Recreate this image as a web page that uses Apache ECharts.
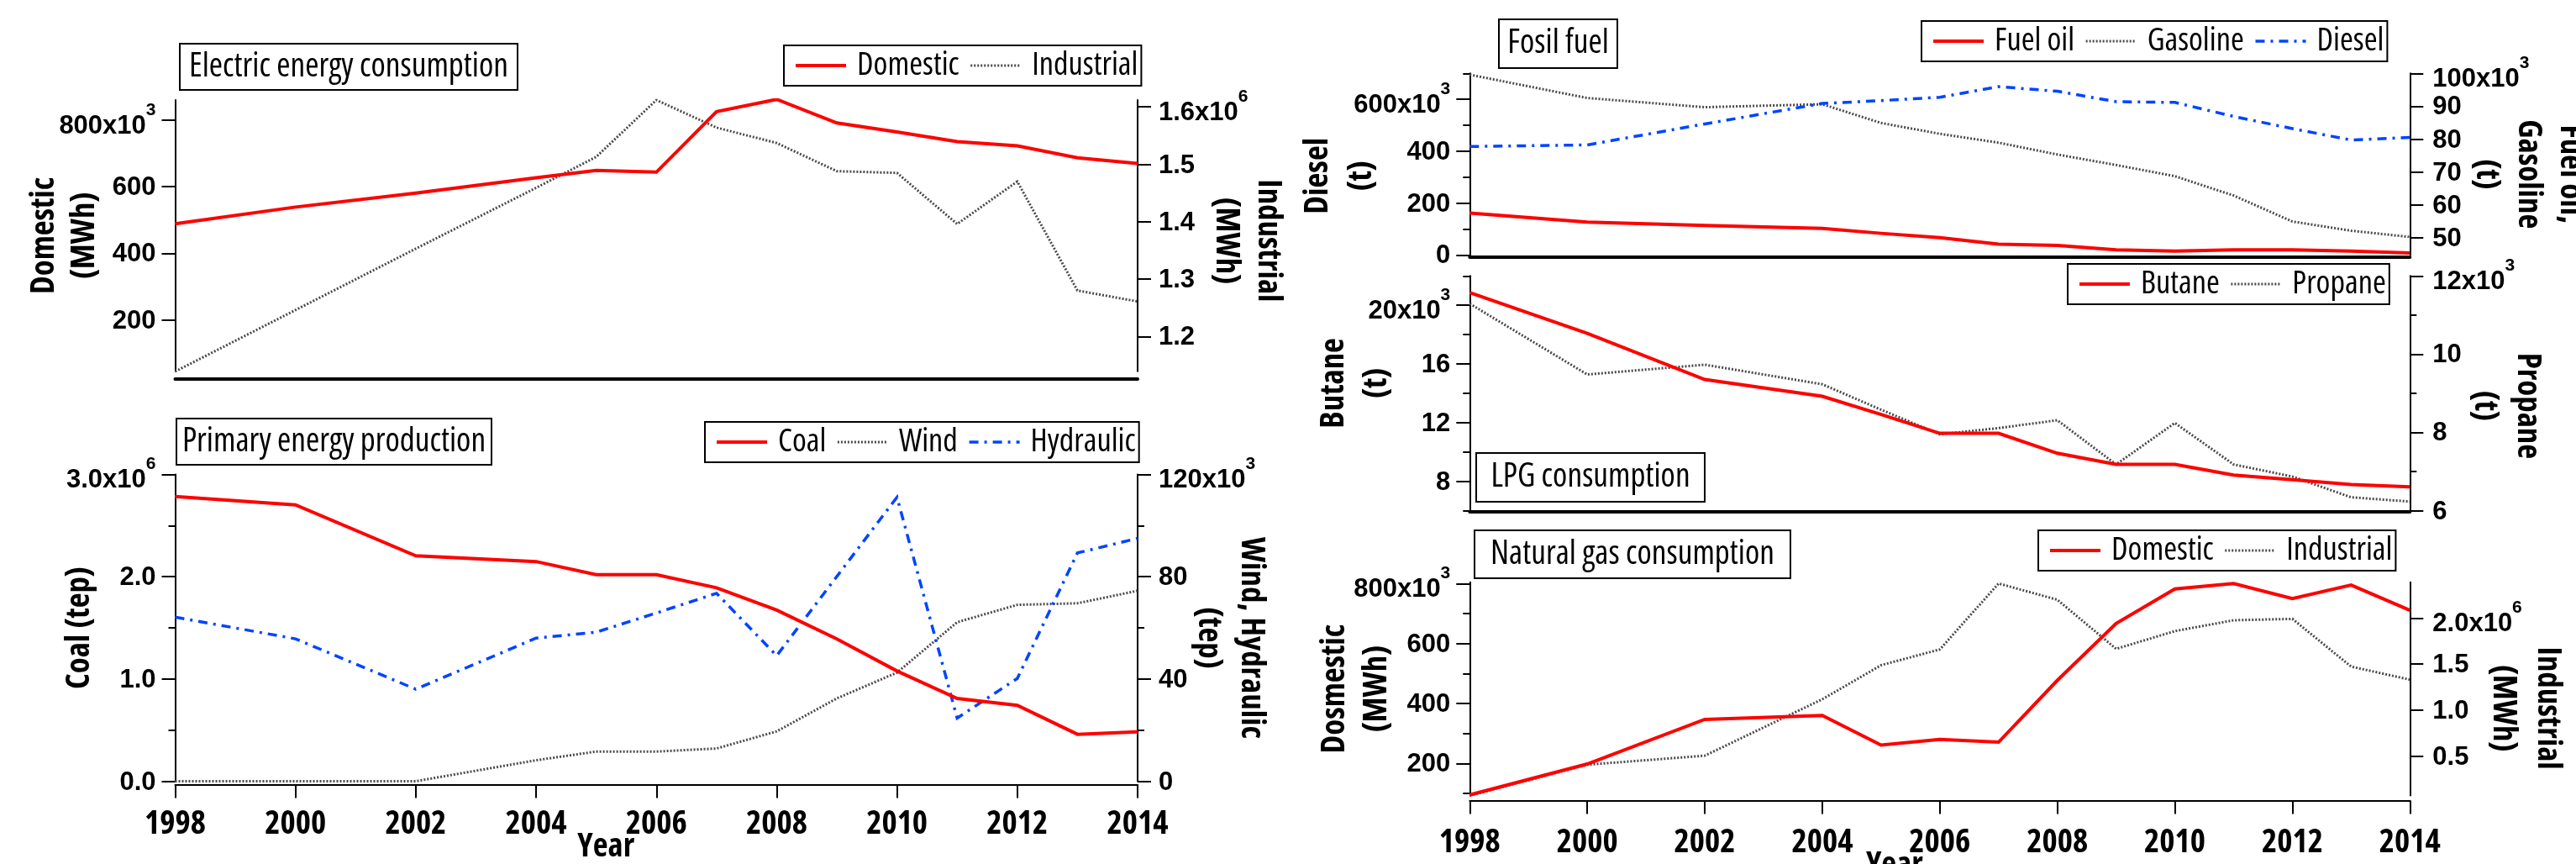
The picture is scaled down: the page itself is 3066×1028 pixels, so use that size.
<!DOCTYPE html>
<html>
<head>
<meta charset="utf-8">
<title>Energy statistics 1998-2014</title>
<script src="https://cdn.jsdelivr.net/npm/echarts@6/dist/echarts.min.js"></script>
<style>
  html, body { margin: 0; padding: 0; background: #fff; }
  #chart { width: 3066px; height: 1028px; }
</style>
</head>
<body>
<div id="chart"></div>
<script>
// ---------------- data ----------------
const years = [1998, 2000, 2002, 2004, 2005, 2006, 2007, 2008, 2009, 2010, 2011, 2012, 2013, 2014];
const yearTicks = [1998, 2000, 2002, 2004, 2006, 2008, 2010, 2012, 2014];

// Electric energy consumption: Domestic in 10^3 MWh, Industrial in 10^6 MWh
const elecDomestic   = [489, 539, 581, 627, 649, 644, 826, 863, 792, 765, 736, 723, 687, 670];
const elecIndustrial = [1.139, 1.246, 1.353, 1.459, 1.513, 1.612, 1.564, 1.537, 1.488, 1.485, 1.396, 1.470, 1.280, 1.261];

// Primary energy production: Coal in 10^6 tep, Wind / Hydraulic in 10^3 tep
const coal      = [2.785, 2.702, 2.205, 2.148, 2.020, 2.020, 1.892, 1.674, 1.391, 1.078, 0.810, 0.742, 0.459, 0.483];
const wind      = [0, 0, 0, 8.2, 11.6, 11.6, 12.8, 19.5, 32.4, 42.5, 62.2, 69.0, 69.6, 74.5];
const hydraulic = [64.2, 55.7, 36.0, 56.0, 58.3, 65.8, 73.5, 49.1, 80.1, 111.1, 24.7, 40.2, 89.3, 95.0];

// Fossil fuel, 10^3 t
const fuelOil  = [57.5, 54.7, 53.7, 52.8, 51.3, 50.0, 48.0, 47.6, 46.3, 45.9, 46.3, 46.3, 45.9, 45.3];
const gasoline = [99.6, 92.5, 89.7, 90.6, 84.9, 81.6, 78.9, 75.3, 72.1, 68.7, 62.8, 54.9, 52.1, 50.2];
const diesel   = [418, 424, 505, 584, 595, 608, 649, 631, 591, 588, 534, 487, 443, 453];

// LPG consumption, 10^3 t
const butane  = [20.86, 18.09, 14.94, 13.79, 12.55, 11.27, 11.27, 9.91, 9.15, 9.15, 8.42, 8.11, 7.77, 7.62];
const propane = [11.29, 9.48, 9.73, 9.23, 8.58, 7.95, 8.11, 8.31, 7.18, 8.24, 7.18, 6.87, 6.34, 6.23];

// Natural gas consumption: Domestic in 10^3 MWh, Industrial in 10^6 MWh
const gasDomestic   = [95, 198, 347, 360, 261, 280, 271, 477, 667, 782, 800, 750, 795, 711];
const gasIndustrial = [0.07, 0.405, 0.503, 1.117, 1.487, 1.659, 2.376, 2.199, 1.665, 1.858, 1.976, 1.991, 1.472, 1.330];

// tick values (labelled / unlabelled minor)
const elecDomTicks = [200, 400, 600, 800];
const elecIndTicks = [1.2, 1.3, 1.4, 1.5, 1.6];
const coalTicks = [0, 1, 2, 3];
const coalMinor = [0.5, 1.5, 2.5];
const windTicks = [0, 40, 80, 120];
const windMinor = [20, 60, 100];
const dieselTicks = [0, 200, 400, 600];
const dieselMinor = [100, 300, 500, 700];
const gasolineTicks = [50, 60, 70, 80, 90, 100];
const butaneTicks = [8, 12, 16, 20];
const butaneMinor = [6, 10, 14, 18, 22];
const propaneTicks = [6, 8, 10, 12];
const propaneMinor = [7, 9, 11];
const gasDomTicks = [200, 400, 600, 800];
const gasDomMinor = [100, 300, 500, 700];
const gasIndTicks = [0.5, 1.0, 1.5, 2.0];

// ---------------- fonts ----------------
// Titles, legends, axis names and year labels use a narrow sans face.
// Pick the first narrow face that is installed; otherwise shrink the
// regular face so the text keeps the same width.
function pickNarrow(weight) {
  const ctx = document.createElement('canvas').getContext('2d');
  const sample = 'Electric energy consumption 1998 Domestic Industrial';
  const measure = font => { ctx.font = '10px monospace'; ctx.font = font; return ctx.measureText(sample).width; };
  const base = measure(weight + ' 100px "Liberation Sans"');
  const candidates = [
    { family: '"Liberation Sans Narrow"', stretch: '' },
    { family: '"Arial Narrow"', stretch: '' },
    { family: '"Noto Sans Condensed"', stretch: '' },
    { family: '"Noto Sans"', stretch: 'condensed' },
    { family: '"Open Sans"', stretch: 'condensed' },
    { family: '"Roboto Condensed"', stretch: '' },
    { family: '"Roboto"', stretch: 'condensed' }
  ];
  for (const c of candidates) {
    const pre = (weight + ' ' + c.stretch).trim();
    const withFace = measure(pre + ' 100px ' + c.family + ', monospace');
    const without = measure(pre + ' 100px monospace');
    if (Math.abs(withFace - without) < 0.5) continue;
    const ratio = withFace / base;
    if (ratio < 0.92 && ratio > 0.6) {
      return { family: c.family + ', "Liberation Sans", sans-serif', weight: pre, scale: Math.min(1.1, Math.max(0.8, 0.82 / ratio)) };
    }
  }
  return { family: '"Liberation Sans", Arial, sans-serif', weight: weight, scale: 0.82 };
}
const NARROW = pickNarrow('normal');
const NARROW_BOLD = pickNarrow('bold');
const FONT_SANS = '"Liberation Sans", Arial, sans-serif';
const nSize = s => Math.round(s * NARROW.scale * 10) / 10;
const nbSize = s => Math.round(s * NARROW_BOLD.scale * 10) / 10;

const RED  = { color: '#ff0000', width: 4, type: 'solid' };
const GREY = { color: '#4a4a4a', width: 3, type: [2, 2] };
const BLUE = { color: '#0044ff', width: 3.5, type: [11, 7, 3, 7] };

const tickRich = {
  m: { fontFamily: FONT_SANS, fontWeight: 'bold', fontSize: 31, lineHeight: 34, verticalAlign: 'bottom', color: '#000' },
  s: { fontFamily: FONT_SANS, fontWeight: 'bold', fontSize: 21, verticalAlign: 'top', padding: [0, 0, 24, 0], color: '#000' }
};

function tickFormatter(decimals, topValue, exp) {
  return function (v) {
    const t = v.toFixed(decimals);
    if (Math.abs(v - topValue) < 1e-9) return '{m|' + t + 'x10}{s|' + exp + '}';
    return '{m|' + t + '}';
  };
}

// ---------------- grids ----------------
const grids = [
  { left: 208.5, top: 119, width: 1145.5, height: 322.7 },
  { left: 208.5, top: 564.5, width: 1145.5, height: 365 },
  { left: 1749.3, top: 87.3, width: 1119, height: 216 },
  { left: 1749.3, top: 328.3, width: 1119, height: 279.2 },
  { left: 1749.3, top: 692.7, width: 1119, height: 253.8 }
].map(g => Object.assign({ containLabel: false, outerBoundsMode: 'none', show: false }, g));

// ---------------- axes ----------------
const yAxes = [];
function addY(c) {
  const idx = yAxes.length;
  const left = c.side === 'left';
  const d = c.shift || 0; // downward shift of the axis name, px
  yAxes.push({
    type: 'value', gridIndex: c.grid, position: c.side, min: c.min, max: c.max,
    name: c.name, nameLocation: 'middle', nameGap: c.nameGap, nameRotate: left ? 90 : -90,
    nameMoveOverlap: false,
    nameTextStyle: {
      fontFamily: NARROW_BOLD.family, fontWeight: NARROW_BOLD.weight, fontSize: nbSize(38), lineHeight: c.lh || 50,
      color: '#000', align: 'center', verticalAlign: 'middle',
      padding: left ? [0, Math.max(0, 2 * d), 0, Math.max(0, -2 * d)]
                    : [0, Math.max(0, -2 * d), 0, Math.max(0, 2 * d)]
    },
    axisLine: { show: true, onZero: false, lineStyle: { color: '#000', width: 2 } },
    axisTick: { show: true, inside: false, length: 16, customValues: c.ticks, lineStyle: { color: '#000', width: 2 } },
    axisLabel: {
      show: true, customValues: c.ticks, margin: c.margin,
      formatter: tickFormatter(c.dec, c.ticks[c.ticks.length - 1], c.exp), rich: tickRich
    },
    splitLine: { show: false }
  });
  if (c.minor) {
    yAxes.push({
      type: 'value', gridIndex: c.grid, position: c.side, min: c.min, max: c.max,
      axisLine: { show: false, onZero: false },
      axisTick: { show: true, inside: false, length: 8, customValues: c.minor, lineStyle: { color: '#000', width: 2 } },
      axisLabel: { show: false },
      splitLine: { show: false }
    });
  }
  return idx;
}

const xAxes = [];
function addX(c) {
  const idx = xAxes.length;
  const ax = {
    type: 'value', gridIndex: c.grid, position: 'bottom', min: 1998, max: 2014, interval: 2,
    offset: c.offset,
    axisLine: { show: true, onZero: false, lineStyle: { color: '#000', width: c.lineWidth } },
    axisTick: { show: !!c.labels, inside: false, length: 16, customValues: yearTicks, lineStyle: { color: '#000', width: 2 } },
    axisLabel: {
      show: !!c.labels, margin: c.margin || 28, color: '#000',
      fontFamily: NARROW_BOLD.family, fontWeight: NARROW_BOLD.weight, fontSize: nbSize(38), lineHeight: 38,
      customValues: yearTicks, formatter: v => String(Math.round(v))
    },
    splitLine: { show: false }
  };
  if (c.labels) {
    Object.assign(ax, {
      name: 'Year', nameLocation: 'middle', nameGap: c.nameGap, nameMoveOverlap: false,
      nameTextStyle: {
        fontFamily: NARROW_BOLD.family, fontWeight: NARROW_BOLD.weight, fontSize: nbSize(38), color: '#000',
        verticalAlign: 'middle', padding: [0, c.nameShift, 0, 0]
      }
    });
  }
  xAxes.push(ax);
  return idx;
}

// Electric energy consumption
const x0 = addX({ grid: 0, offset: 9, lineWidth: 4 });
const yElecDom = addY({ grid: 0, side: 'left', min: 45.2, max: 861, ticks: elecDomTicks, dec: 0, exp: '3',
  margin: 23, name: 'Domestic\n(MWh)', nameGap: 132, lh: 48 });
const yElecInd = addY({ grid: 0, side: 'right', min: 1.1394, max: 1.612, ticks: elecIndTicks, dec: 1, exp: '6',
  margin: 25, name: 'Industrial\n(MWh)', nameGap: 130, lh: 50, shift: 6 });

// Primary energy production
const x1 = addX({ grid: 1, offset: 4, lineWidth: 2, labels: true, margin: 28, nameGap: 74, nameShift: 120 });
const yCoal = addY({ grid: 1, side: 'left', min: 0, max: 3, ticks: coalTicks, minor: coalMinor, dec: 1, exp: '6',
  margin: 23, name: 'Coal (tep)', nameGap: 114 });
const yWind = addY({ grid: 1, side: 'right', min: 0, max: 120, ticks: windTicks, minor: windMinor, dec: 0, exp: '3',
  margin: 25, name: 'Wind, Hydraulic\n(tep)', nameGap: 110, lh: 51, shift: 12 });

// Fossil fuel
const x2 = addX({ grid: 2, offset: 2, lineWidth: 4 });
const yDiesel = addY({ grid: 2, side: 'left', min: 0, max: 700, ticks: dieselTicks, minor: dieselMinor, dec: 0, exp: '3',
  margin: 23, name: 'Diesel\n(t)', nameGap: 154, lh: 52, shift: 14 });
const yGasoline = addY({ grid: 2, side: 'right', min: 44.73, max: 100, ticks: gasolineTicks, dec: 0, exp: '3',
  margin: 27, name: 'Fuel oil,\nGasoline\n(t)', nameGap: 141, lh: 50, shift: 12 });

// LPG consumption
const x3 = addX({ grid: 3, offset: 1, lineWidth: 4 });
const yButane = addY({ grid: 3, side: 'left', min: 6, max: 22, ticks: butaneTicks, minor: butaneMinor, dec: 0, exp: '3',
  margin: 23, name: 'Butane\n(t)', nameGap: 136, lh: 51, shift: -12 });
const yPropane = addY({ grid: 3, side: 'right', min: 6, max: 12, ticks: propaneTicks, minor: propaneMinor, dec: 0, exp: '3',
  margin: 27, name: 'Propane\n(t)', nameGap: 114, lh: 51, shift: 15 });

// Natural gas consumption
const x4 = addX({ grid: 4, offset: 6, lineWidth: 2, labels: true, margin: 31, nameGap: 77, nameShift: 108 });
const yGasDom = addY({ grid: 4, side: 'left', min: 93, max: 804.5, ticks: gasDomTicks, minor: gasDomMinor, dec: 0, exp: '3',
  margin: 23, name: 'Dosmestic\n(MWh)', nameGap: 135, lh: 50 });
const yGasInd = addY({ grid: 4, side: 'right', min: 0.07, max: 2.39, ticks: gasIndTicks, dec: 1, exp: '6',
  margin: 27, name: 'Industrial\n(MWh)', nameGap: 137, lh: 53, shift: 23 });

// ---------------- series ----------------
function line(name, values, xi, yi, style, z) {
  return {
    type: 'line', name, xAxisIndex: xi, yAxisIndex: yi,
    data: years.map((y, i) => [y, values[i]]),
    symbol: 'none', showSymbol: false, smooth: false, silent: true, z: z,
    itemStyle: { color: style.color },
    lineStyle: Object.assign({ cap: 'butt', join: 'miter' }, style)
  };
}

const series = [
  line('Domestic', elecDomestic, x0, yElecDom, RED, 4),
  line('Industrial', elecIndustrial, x0, yElecInd, GREY, 3),
  line('Coal', coal, x1, yCoal, RED, 4),
  line('Wind', wind, x1, yWind, GREY, 3),
  line('Hydraulic', hydraulic, x1, yWind, BLUE, 3),
  line('Fuel oil', fuelOil, x2, yGasoline, RED, 4),
  line('Gasoline', gasoline, x2, yGasoline, GREY, 3),
  line('Diesel', diesel, x2, yDiesel, BLUE, 3),
  line('Butane', butane, x3, yButane, RED, 4),
  line('Propane', propane, x3, yPropane, GREY, 3),
  line('Domestic', gasDomestic, x4, yGasDom, RED, 4),
  line('Industrial', gasIndustrial, x4, yGasInd, GREY, 3)
];

// ---------------- legends ----------------
function legendBox(names, left, top) {
  return {
    data: names, left: left, top: top, orient: 'horizontal',
    itemWidth: 60, itemHeight: 14, itemGap: 12,
    padding: [5, 4, 5, 12], borderColor: '#000', borderWidth: 2, backgroundColor: '#fff',
    selectedMode: false,
    itemStyle: { opacity: 0, borderWidth: 0 },
    lineStyle: { width: 'inherit' },
    textStyle: { fontFamily: NARROW.family, fontWeight: NARROW.weight, fontSize: nSize(36), lineHeight: 38, color: '#000', padding: [0, 0, 0, 8] }
  };
}
const legends = [
  legendBox(['Domestic', 'Industrial'], 933, 54),
  legendBox(['Coal', 'Wind', 'Hydraulic'], 839, 502),
  legendBox(['Fuel oil', 'Gasoline', 'Diesel'], 2287, 25),
  legendBox(['Butane', 'Propane'], 2461, 314),
  legendBox(['Domestic', 'Industrial'], 2426, 631)
];

// ---------------- panel titles (framed) ----------------
const panelTitles = [
  { text: 'Electric energy consumption', x: 214, y: 52, w: 402, h: 55 },
  { text: 'Primary energy production', x: 210, y: 498, w: 375, h: 55 },
  { text: 'Fosil fuel', x: 1784, y: 23, w: 141, h: 58 },
  { text: 'LPG consumption', x: 1757, y: 539, w: 272, h: 58 },
  { text: 'Natural gas consumption', x: 1755, y: 631, w: 376, h: 57 }
];
const graphics = [];
panelTitles.forEach(t => {
  graphics.push({
    type: 'rect', shape: { x: t.x, y: t.y, width: t.w, height: t.h }, z: 10,
    style: { fill: '#fff', stroke: '#000', lineWidth: 2 }, silent: true
  });
  graphics.push({
    type: 'text', x: t.x + t.w / 2, y: t.y + t.h / 2, z: 11, silent: true,
    style: {
      text: t.text, fontFamily: NARROW.family, fontWeight: NARROW.weight, fontSize: nSize(37),
      fill: '#000', align: 'center', verticalAlign: 'middle'
    }
  });
});

const chart = echarts.init(document.getElementById('chart'), null, { renderer: 'canvas' });
chart.setOption({
  animation: false,
  backgroundColor: '#fff',
  grid: grids,
  xAxis: xAxes,
  yAxis: yAxes,
  legend: legends,
  graphic: { elements: graphics },
  series: series
});
</script>
</body>
</html>
